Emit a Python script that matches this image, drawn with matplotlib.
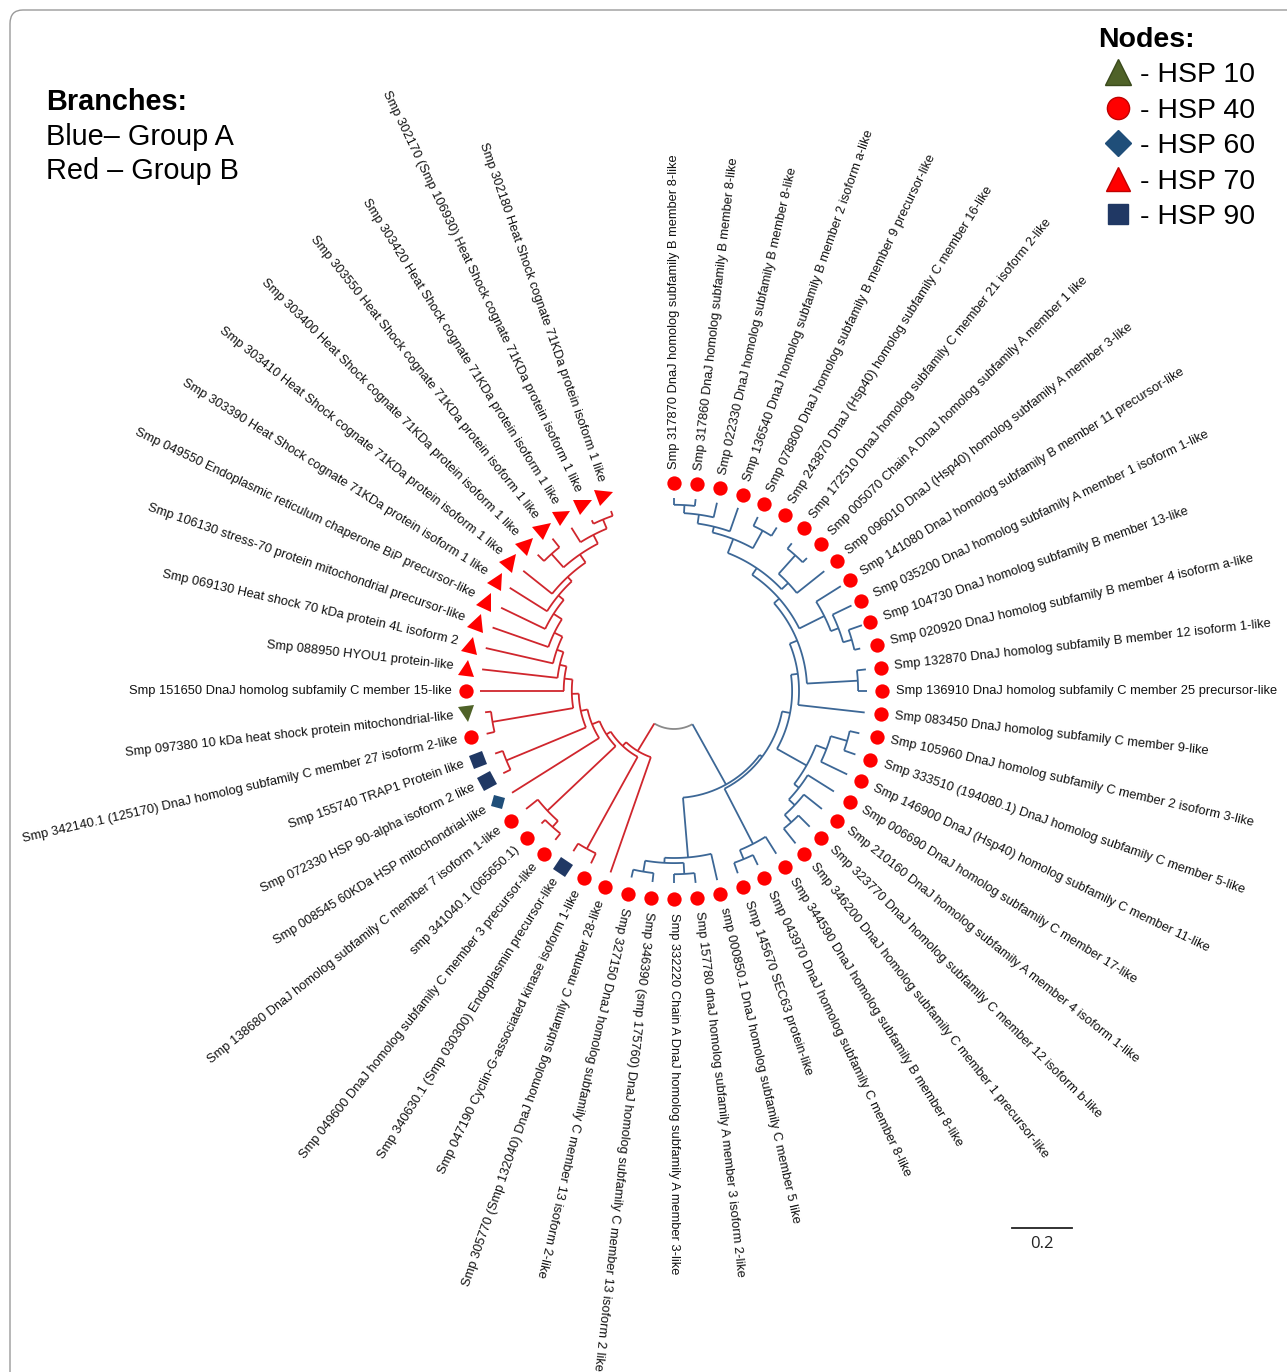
import numpy as np
import matplotlib
matplotlib.use("Agg")
import matplotlib.pyplot as plt
from matplotlib.lines import Line2D
from matplotlib.markers import MarkerStyle
from matplotlib.transforms import Affine2D
from matplotlib.patches import FancyBboxPatch

plt.rcParams['font.family'] = ['Liberation Sans', 'DejaVu Sans']

# ---------------------------------------------------------------------------
# Tree topology (Newick fragments, branch lengths in substitutions per site)
# ---------------------------------------------------------------------------
# Group A (blue branches)
A_TOP = "((((L1:0.023,L2:0.023):0.027,L3:0.050):0.030,L4:0.083):0.020,(L5:0.033,L6:0.033):0.067)"
A_L7_L9 = "((L7:0.023,L8:0.020):0.083,L9:0.117)"
A_L10_L13 = "(L10:0.097,(L11:0.070,(L12:0.047,L13:0.020):0.030):0.027)"
A_L14_L15 = "(L14:0.030,L15:0.030)"
A_L17_L23 = "(((L17:0.033,L18:0.040):0.057,L19:0.097):0.037,(L20:0.103,(L21:0.077,(L22:0.053,L23:0.063):0.033):0.027):0.020)"
A_L24_L26 = "(L24:0.067,(L25:0.037,L26:0.037):0.033)"
A_L27_L31 = "(L27:0.090,((L28:0.033,L29:0.030):0.037,(L30:0.030,L31:0.027):0.037):0.017)"

# Group B (red branches)
B_L52_L54 = "(L52:0.057,(L53:0.013,L54:0.017):0.033)"
B_L50_L51 = "(L50:0.030,L51:0.037)"
B_L41_L42 = "(L41:0.027,L42:0.020)"
B_L39_L40 = "(L39:0.027,L40:0.027)"
B_L35_L37 = "((L35:0.027,L36:0.017):0.027,L37:0.050)"
B_L33_L34 = "(L33:0.037,L34:0.030)"

# backbone branch lengths from root to Group A / Group B
ROOT_LEN_A = 0.230
ROOT_LEN_B = 0.107


def build_group_a():
    c2 = "(" + A_TOP + ":0.050," + A_L7_L9 + ":0.030)"
    b5 = "(" + c2 + ":0.027," + A_L10_L13 + ":0.093)"
    b4 = "(" + b5 + ":0.023," + A_L14_L15 + ":0.170)"
    b3 = "(" + b4 + ":0.027,L16:0.223)"
    b2 = "(" + b3 + ":0.023," + A_L17_L23 + ":0.113)"
    b1 = "(" + b2 + ":0.027," + A_L24_L26 + ":0.207)"
    return "(" + b1 + ":0.010," + A_L27_L31 + ":0.200)"


def build_group_b():
    n = "(" + B_L50_L51 + ":0.060," + B_L52_L54 + ":0.033)"
    m = "(L49:0.123," + n + ":0.033)"
    l = "(L48:0.147," + m + ":0.020)"
    k = "(L47:0.163," + l + ":0.023)"
    j = "(L46:0.197," + k + ":0.033)"
    i = "(L45:0.230," + j + ":0.030)"
    h = "(L44:0.253," + i + ":0.023)"
    g = "(L43:0.280," + h + ":0.023)"
    f = "(" + B_L41_L42 + ":0.273," + g + ":0.027)"
    e = "(" + B_L39_L40 + ":0.287," + f + ":0.023)"
    d = "(L38:0.343," + e + ":0.023)"
    c = "(" + B_L35_L37 + ":0.313," + d + ":0.027)"
    b = "(" + B_L33_L34 + ":0.350," + c + ":0.017)"
    return "(L32:0.407," + b + ":0.017)"


TREE = ("(" + build_group_a() + ":" + str(ROOT_LEN_A) + "," +
        build_group_b() + ":" + str(ROOT_LEN_B) + ");")

# Leaf labels, in leaf order (clockwise from the top)
LABELS = [
    "Smp 317870 DnaJ homolog subfamily B member 8-like",
    "Smp 317860 DnaJ homolog subfamily B member 8-like",
    "Smp 022330 DnaJ homolog subfamily B member 8-like",
    "Smp 136540 DnaJ homolog subfamily B member 2 isoform a-like",
    "Smp 078800 DnaJ homolog subfamily B member 9 precursor-like",
    "Smp 243870 DnaJ (Hsp40) homolog subfamily C member 16-like",
    "Smp 172510 DnaJ homolog subfamily C member 21 isoform 2-like",
    "Smp 005070 Chain A DnaJ homolog subfamily A member 1 like",
    "Smp 096010 DnaJ (Hsp40) homolog subfamily A member 3-like",
    "Smp 141080 DnaJ homolog subfamily B member 11 precursor-like",
    "Smp 035200 DnaJ homolog subfamily A member 1 isoform 1-like",
    "Smp 104730 DnaJ homolog subfamily B member 13-like",
    "Smp 020920 DnaJ homolog subfamily B member 4 isoform a-like",
    "Smp 132870 DnaJ homolog subfamily B member 12 isoform 1-like",
    "Smp 136910 DnaJ homolog subfamily C member 25 precursor-like",
    "Smp 083450 DnaJ homolog subfamily C member 9-like",
    "Smp 105960 DnaJ homolog subfamily C member 2 isoform 3-like",
    "Smp 333510 (194080.1) DnaJ homolog subfamily C member 5-like",
    "Smp 146900 DnaJ (Hsp40) homolog subfamily C member 11-like",
    "Smp 006690 DnaJ homolog subfamily C member 17-like",
    "Smp 210160 DnaJ homolog subfamily A member 4 isoform 1-like",
    "Smp 323770 DnaJ homolog subfamily C member 12 isoform b-like",
    "Smp 346200 DnaJ homolog subfamily C member 1 precursor-like",
    "Smp 344590 DnaJ homolog subfamily B member 8-like",
    "Smp 043970 DnaJ homolog subfamily C member 8-like",
    "Smp 145670 SEC63 protein-like",
    "smp 000850.1 DnaJ homolog subfamily C member 5 like",
    "Smp 157780 dnaJ homolog subfamily A member 3 isoform 2-like",
    "Smp 332220 Chain A DnaJ homolog subfamily A member 3-like",
    "Smp 346390 (smp 175760) DnaJ homolog subfamily C member 13 isoform 2 like",
    "Smp 327150 DnaJ homolog subfamily C member 13 isoform 2-like",
    "Smp 305770 (Smp 132040) DnaJ homolog subfamily C member 28-like",
    "Smp 047190 Cyclin-G-associated kinase isoform 1-like",
    "Smp 340630.1 (Smp 030300) Endoplasmin precursor-like",
    "Smp 049600 DnaJ homolog subfamily C member 3 precursor-like",
    "smp 341040.1 (065650.1)",
    "Smp 138680 DnaJ homolog subfamily C member 7 isoform 1-like",
    "Smp 008545 60KDa HSP mitochondrial-like",
    "Smp 072330 HSP 90-alpha isoform 2 like",
    "Smp 155740 TRAP1 Protein like",
    "Smp 342140.1 (125170) DnaJ homolog subfamily C member 27 isoform 2-like",
    "Smp 097380 10 kDa heat shock protein mitochondrial-like",
    "Smp 151650 DnaJ homolog subfamily C member 15-like",
    "Smp 088950 HYOU1 protein-like",
    "Smp 069130 Heat shock 70 kDa protein 4L isoform 2",
    "Smp 106130 stress-70 protein mitochondrial precursor-like",
    "Smp 049550 Endoplasmic reticulum chaperone BiP precursor-like",
    "Smp 303390 Heat Shock cognate 71KDa protein isoform 1 like",
    "Smp 303410 Heat Shock cognate 71KDa protein isoform 1 like",
    "Smp 303400 Heat Shock cognate 71KDa protein isoform 1 like",
    "Smp 303550 Heat Shock cognate 71KDa protein isoform 1 like",
    "Smp 303420 Heat Shock cognate 71KDa protein isoform 1 like",
    "Smp 302170 (Smp 106930) Heat Shock cognate 71KDa protein isoform 1 like",
    "Smp 302180 Heat Shock cognate 71KDa protein isoform 1 like",
]

# HSP family of every leaf (same order as LABELS)
NODE_TYPES = (["HSP 40"] * 33 +
              ["HSP 90", "HSP 40", "HSP 40", "HSP 40", "HSP 60",
               "HSP 90", "HSP 90", "HSP 40", "HSP 10", "HSP 40"] +
              ["HSP 70"] * 11)

LEGEND_TYPES = ["HSP 10", "HSP 40", "HSP 60", "HSP 70", "HSP 90"]
SCALE_VALUE = 0.2

# ---------------------------------------------------------------------------
# Styles
# ---------------------------------------------------------------------------
COL_A = '#3c6796'
COL_B = '#d0262d'
COL_ROOT = '#8a8a8a'
MARKERS = {
    "HSP 10": dict(marker='v', color='#4f6228', size=12),
    "HSP 40": dict(marker='o', color='#ff0000', size=10.3),
    "HSP 60": dict(marker='D', color='#1f4e79', size=8.5),
    "HSP 70": dict(marker='^', color='#ff0000', size=12),
    "HSP 90": dict(marker='s', color='#203864', size=10.5),
}
LEGEND_MARKERS = {
    "HSP 10": dict(marker='^', face='#4f6228', edge='#3a4a1c', size=19),
    "HSP 40": dict(marker='o', face='#ff0000', edge='#c00000', size=16),
    "HSP 60": dict(marker='D', face='#1f4e79', edge='#1f4e79', size=13),
    "HSP 70": dict(marker='^', face='#ff0000', edge='#c00000', size=17),
    "HSP 90": dict(marker='s', face='#203864', edge='#203864', size=15),
}

PX = 300.0                 # pixels per unit of branch length
W, H = 1287, 1372
CX, CY = 674, 691          # tree centre in pixels (from the top-left)
R0 = 38 / PX               # radius of the root arc
R_MARK = 208 / PX
R_LABEL = 222 / PX
N_SLOTS = 56
STEP = 360.0 / N_SLOTS
LABEL_SIZE = 9.3


def parse_newick(s):
    pos = 0

    def node():
        nonlocal pos
        children = []
        if s[pos] == '(':
            pos += 1
            while True:
                children.append(node())
                if s[pos] == ',':
                    pos += 1
                    continue
                if s[pos] == ')':
                    pos += 1
                    break
        start = pos
        while pos < len(s) and s[pos] not in ':,();':
            pos += 1
        name = s[start:pos]
        length = 0.0
        if pos < len(s) and s[pos] == ':':
            pos += 1
            start = pos
            while s[pos] not in ',();':
                pos += 1
            length = float(s[start:pos])
        return {'name': name, 'len': length, 'children': children}

    return node()


root = parse_newick(TREE)
leaves = []


def layout(n, parent_depth):
    n['depth'] = parent_depth + n['len']
    n['r'] = R0 + n['depth']
    if not n['children']:
        n['theta'] = 90.0 - len(leaves) * STEP
        leaves.append(n)
    else:
        for c in n['children']:
            layout(c, n['depth'])
        n['theta'] = 0.5 * (n['children'][0]['theta'] + n['children'][-1]['theta'])


layout(root, 0.0)

fig = plt.figure(figsize=(W / 100, H / 100), dpi=100)
ax = fig.add_axes([0, 0, 1, 1])
ax.set_xlim(-CX / PX, (W - CX) / PX)
ax.set_ylim(-(H - CY) / PX, CY / PX)
ax.axis('off')

LW = 1.3


def polar(r, t):
    tr = np.deg2rad(t)
    return r * np.cos(tr), r * np.sin(tr)


def draw_node(n, color, arc_color=None):
    if not n['children']:
        return
    t0 = n['children'][0]['theta']
    t1 = n['children'][-1]['theta']
    ts = np.linspace(t0, t1, max(8, int(abs(t1 - t0) * 3)))
    x, y = polar(n['r'], ts)
    ax.plot(x, y, color=arc_color or color, lw=LW, solid_capstyle='butt', zorder=2)
    for c in n['children']:
        cc = color if arc_color is None else c['clade_color']
        xa, ya = polar(n['r'], c['theta'])
        xb, yb = polar(c['r'], c['theta'])
        ax.plot([xa, xb], [ya, yb], color=cc, lw=LW, solid_capstyle='butt', zorder=2)
        draw_node(c, cc)


root['children'][0]['clade_color'] = COL_A
root['children'][1]['clade_color'] = COL_B
draw_node(root, None, arc_color=COL_ROOT)

# leaf markers and labels
for leaf, label, kind in zip(leaves, LABELS, NODE_TYPES):
    t = leaf['theta']
    tn = t % 360
    spec = MARKERS[kind]
    rot = 0 if kind == "HSP 40" else t - 180
    ms = MarkerStyle(spec['marker'], transform=Affine2D().rotate_deg(rot))
    mx, my = polar(R_MARK, t)
    ax.plot([mx], [my], marker=ms, markersize=spec['size'], color=spec['color'],
            markeredgewidth=0, linestyle='None', zorder=3)
    lx, ly = polar(R_LABEL, t)
    if 95 < tn < 255:
        ax.text(lx, ly, label, rotation=tn - 180, rotation_mode='anchor',
                ha='right', va='center', fontsize=LABEL_SIZE, color='#111111')
    else:
        ax.text(lx, ly, label, rotation=t, rotation_mode='anchor',
                ha='left', va='center', fontsize=LABEL_SIZE, color='#111111')

# scale bar
sx0 = (1012 - CX) / PX
sy = (CY - 1228) / PX
ax.plot([sx0, sx0 + SCALE_VALUE], [sy, sy], color='#222222', lw=1.3)
ax.text(sx0 + SCALE_VALUE / 2, sy - 8 / PX, f"{SCALE_VALUE:g}", ha='center', va='top',
        fontsize=12, color='#222222', family=['Open Sans', 'DejaVu Sans'])

# branch colour key
fig.text(46 / W, 1 - 110 / H, "Branches:", fontsize=20.8, fontweight='bold', va='baseline')
fig.text(46 / W, 1 - 145 / H, "Blue\u2013 Group A", fontsize=20.8, va='baseline')
fig.text(46 / W, 1 - 179 / H, "Red \u2013 Group B", fontsize=20.8, va='baseline')

# node legend
handles = []
for kind in LEGEND_TYPES:
    s = LEGEND_MARKERS[kind]
    handles.append(Line2D([], [], linestyle='None', marker=s['marker'],
                          markerfacecolor=s['face'], markeredgecolor=s['edge'],
                          markeredgewidth=1.0, markersize=s['size']))
leg = fig.legend(handles, ["- " + k for k in LEGEND_TYPES], title="Nodes:",
                 loc='upper left', bbox_to_anchor=(1098 / W, 1 - 27 / H),
                 frameon=False, fontsize=20.5, alignment='left',
                 title_fontproperties={'weight': 'bold', 'size': 20.5},
                 handlelength=1.4, handletextpad=0.08, labelspacing=0.33,
                 borderpad=0, borderaxespad=0)

# outer rounded frame
frame = FancyBboxPatch((10 / W, -0.05), 1.2, 1.05 - 10 / H,
                       boxstyle="round,pad=0,rounding_size=0.01",
                       transform=fig.transFigure, fill=False,
                       edgecolor='#9a9a9a', lw=1.0)
fig.patches.append(frame)

fig.savefig('out.png', dpi=100)
